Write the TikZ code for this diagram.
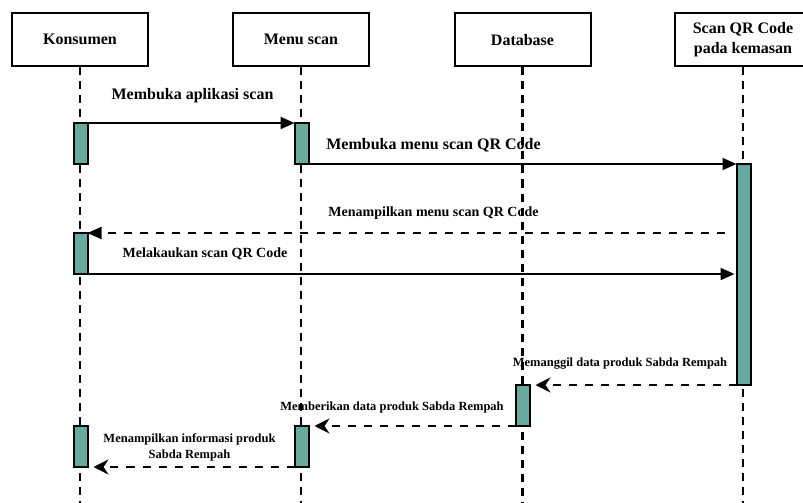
\documentclass[tikz,border=0pt]{standalone}
\usepackage{fontspec}
\setmainfont{Liberation Serif}
\usetikzlibrary{arrows.meta}

\definecolor{actfill}{RGB}{103,171,159}

\tikzset{
  actor/.style={draw, line width=2bp, minimum width=136bp, minimum height=53bp,
    inner sep=0pt, align=center, font=\fontsize{16bp}{20bp}\selectfont\bfseries},
  lifeline/.style={line width=2.2bp, dash pattern=on 8bp off 6bp},
  activation/.style={draw, line width=2bp, fill=actfill, minimum width=14bp,
    minimum height=41bp, inner sep=0pt, outer sep=0pt},
  callmsg/.style={line width=2bp, -{Triangle[length=14bp,width=12bp]}},
  backmsg/.style={line width=2bp, dash pattern=on 8bp off 8bp,
    -{Triangle[length=14bp,width=12bp]}},
  replymsg/.style={line width=2bp, dash pattern=on 8bp off 8bp, shorten >=6bp,
    -{Stealth[length=15bp,width=15bp,inset=5bp]}},
  biglabel/.style={inner sep=0pt, font=\fontsize{16bp}{20bp}\selectfont\bfseries},
  midlabel/.style={inner sep=0pt, font=\fontsize{14bp}{17bp}\selectfont\bfseries},
  smalllabel/.style={inner sep=0pt, align=center, font=\fontsize{12.5bp}{16.5bp}\selectfont\bfseries},
}

\begin{document}
\begin{tikzpicture}[x=1bp, y=-1bp]
  %%%%% START %%%%%
  \clip (0,0) rectangle (803,503);

  % participants
  \node[actor] (konsumen) at (80,39.5) {Konsumen};
  \node[actor] (menuscan) at (301,39.5) {Menu scan};
  \node[actor] (database) at (522.5,40) {Database};
  \node[actor] (scanqr) at (743,39.5) {Scan QR Code\\pada kemasan};

  \coordinate (konsumenEnd) at (80,503);
  \coordinate (menuscanEnd) at (301,503);
  \coordinate (databaseEnd) at (522.5,503);
  \coordinate (scanqrEnd) at (743,503);

  \draw[lifeline] (konsumen.south) -- (konsumenEnd);
  \draw[lifeline] (menuscan.south) -- (menuscanEnd);
  \draw[lifeline] (database.south) -- (databaseEnd);
  \draw[lifeline] (scanqr.south) -- (scanqrEnd);

  % activations
  \node[activation] (actK1) at (80.5,143.5) {};
  \node[activation] (actM1) at (301.5,143.5) {};
  \node[activation, minimum height=221bp] (actS1) at (743.5,274.5) {};
  \node[activation] (actK2) at (80.5,253.5) {};
  \node[activation] (actD1) at (522.5,405.5) {};
  \node[activation] (actM2) at (301.5,446.5) {};
  \node[activation] (actK3) at (80.5,446.5) {};

  % messages
  \draw[callmsg] (actK1.north east) -- (actM1.north west);
  \node[biglabel] (lbl1) at (192.5,96) {Membuka aplikasi scan};

  \draw[callmsg] (actM1.south east) -- (actS1.west |- actM1.south east);
  \node[biglabel] (lbl2) at (433.5,145) {Membuka menu scan QR Code};

  \draw[backmsg, shorten <=12bp] (actS1.west |- actK2.north) -- (actK2.north east);
  \node[midlabel] (lbl3) at (433.5,213) {Menampilkan menu scan QR Code};

  \draw[callmsg, shorten >=2bp] (actK2.south east) -- (actS1.west |- actK2.south);
  \node[midlabel] (lbl4) at (205,254) {Melakaukan scan QR Code};

  \draw[replymsg] (actS1.south west) -- (actD1.east |- actS1.south west);
  \node[smalllabel] (lbl5) at (620,364) {Memanggil data produk Sabda Rempah};

  \draw[replymsg] (actD1.south west) -- (actM2.east |- actD1.south west);
  \node[smalllabel] (lbl6) at (392,407) {Memberikan data produk Sabda Rempah};

  \draw[replymsg] (actM2.south west) -- (actK3.south east);
  \node[smalllabel] (lbl7) at (189.5,447.5) {Menampilkan informasi produk\\Sabda Rempah};
  %%%%% END %%%%%
\end{tikzpicture}
\end{document}
